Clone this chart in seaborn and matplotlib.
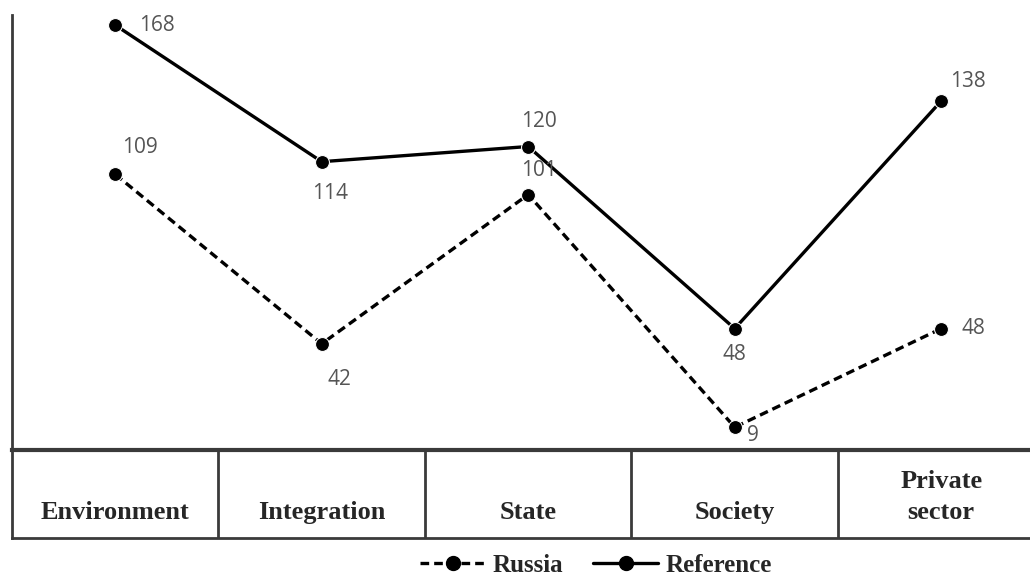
import pandas as pd
import matplotlib
matplotlib.use("Agg")
import matplotlib.pyplot as plt
import seaborn as sns

# data
categories = ["Environment", "Integration", "State", "Society", "Private\nsector"]
russia = [109, 42, 101, 9, 48]
reference = [168, 114, 120, 48, 138]

df = pd.DataFrame({
    "cat": categories * 2,
    "value": russia + reference,
    "series": ["Russia"] * len(categories) + ["Reference"] * len(categories),
})

sns.set_style("white")
plt.rcParams["font.family"] = ["Open Sans", "DejaVu Sans"]

fig = plt.figure(figsize=(10.3, 5.76), dpi=100)
ax = fig.add_axes([12 / 1030, 1 - 450 / 576, 1018 / 1030, 435 / 576])
tab = fig.add_axes([12 / 1030, 1 - 538 / 576, 1018 / 1030, 88 / 576])

sns.lineplot(data=df, x="cat", y="value", hue="series", style="series",
             palette={"Russia": "black", "Reference": "black"},
             dashes={"Russia": (2.6, 1.5), "Reference": ""},
             markers={"Russia": "o", "Reference": "o"},
             markersize=10, linewidth=2.4, sort=False, legend=False, ax=ax)

ax.set_xlim(-0.5, 4.43)
ax.set_ylim(0, 172)
ax.set_xticks([])
ax.set_yticks([])
ax.set_xlabel("")
ax.set_ylabel("")
for s in ["top", "right", "bottom"]:
    ax.spines[s].set_visible(False)
ax.spines["left"].set_color("#3a3a3a")
ax.spines["left"].set_linewidth(2)

# value labels
ref_off = [(30, 0), (6, -23), (8, 18), (0, -19), (19, 14)]
rus_off = [(18, 19), (13, -26), (8, 17), (13, -6), (23, 0)]
for i, (v, o) in enumerate(zip(reference, ref_off)):
    ax.annotate(str(v), (i, v), xytext=o, textcoords="offset points",
                ha="center", va="center", fontsize=15, color="#555555")
for i, (v, o) in enumerate(zip(russia, rus_off)):
    ax.annotate(str(v), (i, v), xytext=o, textcoords="offset points",
                ha="center", va="center", fontsize=15, color="#555555")

# category table under the plot
tab.set_xlim(-0.5, 4.43)
tab.set_ylim(0, 1)
tab.set_xticks([])
tab.set_yticks([])
tab.spines["right"].set_visible(False)
for s in ["left", "bottom", "top"]:
    tab.spines[s].set_color("#3a3a3a")
    tab.spines[s].set_linewidth(2)
tab.spines["top"].set_linewidth(3)
for b in range(len(categories) - 1):
    tab.axvline(b + 0.5, color="#3a3a3a", linewidth=2)
for i, c in enumerate(categories):
    tab.text(i, 0.22, c, ha="center", va="baseline", multialignment="center",
             fontsize=19, fontweight="bold", family="Liberation Serif",
             linespacing=1.45)

h1, = ax.plot([], [], color="black", linestyle=(0, (2.6, 1.5)), marker="o",
              markersize=10, linewidth=2.4)
h2, = ax.plot([], [], color="black", linestyle="-", marker="o",
              markersize=10, linewidth=2.4)
fig.legend([h1, h2], ["Russia", "Reference"], loc="center",
           bbox_to_anchor=(0.579, 1 - 565 / 576), ncol=2, frameon=False,
           handlelength=2.6, columnspacing=1.2, handletextpad=0.3,
           prop={"family": "Liberation Serif", "weight": "bold", "size": 18})

fig.savefig("out.png", dpi=100)
